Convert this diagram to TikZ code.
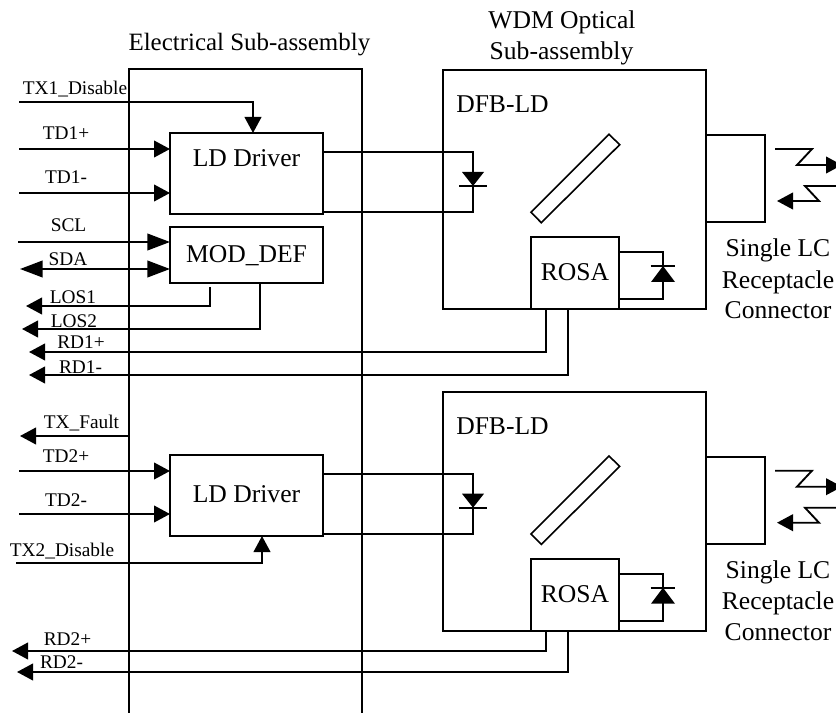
\documentclass[tikz,border=0pt]{standalone}
\usepackage{fontspec}
\setmainfont{Liberation Serif}
\usetikzlibrary{arrows.meta,calc}
\tikzset{
  wire/.style={line width=1.4pt,line join=miter},
  sig/.style={wire,-{Triangle[length=12pt,width=12.5pt]}},
  siglong/.style={wire,-{Triangle[length=17pt,width=12.5pt]}},
  sigb/.style={wire,{Triangle[length=17pt,width=12.5pt]}-{Triangle[length=17pt,width=12.5pt]}},
  boxn/.style={draw,line width=1.5pt,inner sep=0pt,outer sep=0pt,font=\fontsize{19.2}{23}\selectfont,text height=20pt,text depth=9pt},
  drvbox/.style={boxn,minimum width=114.75pt,minimum height=60.75pt},
  lab/.style={anchor=base,inner sep=0pt,font=\fontsize{14.5}{17}\selectfont},
  big/.style={anchor=base,inner sep=0pt,font=\fontsize{19.2}{23}\selectfont},
}
\begin{document}
\begin{tikzpicture}[x=0.75pt,y=-0.75pt]
\useasboundingbox (0,0) rectangle (836,713);
\clip (0,0) rectangle (836,713);
% electrical sub-assembly
\coordinate (ea) at (129,713);
\coordinate (eb) at (129,69);
\coordinate (ec) at (362,69);
\coordinate (ed) at (362,713);
\draw[wire,line width=1.5pt] (ea) -- (eb) -- (ec) -- (ed);
\node[big,font=\fontsize{18.7}{23}\selectfont] (tElec) at (249.4,51) {Electrical Sub-assembly};
\node[big] (tWdmA) at (562,28.5) {WDM Optical};
\node[big] (tWdmB) at (561.5,59.5) {Sub-assembly};
% drivers and MOD_DEF
\node[drvbox,text height=12pt,text depth=23pt] (drv1) at (246.5,173.5) {LD Driver};
\node[drvbox] (drv2) at (246.5,495.5) {LD Driver};
\node[boxn,minimum width=114.75pt,minimum height=42pt] (mod) at (246.5,255) {MOD\_DEF};
% optical assemblies
\foreach \n/\o in {1/0,2/321.7}{
  \begin{scope}[shift={(0,\o)}]
    \node[draw,line width=1.5pt,inner sep=0pt,outer sep=0pt,minimum width=197.25pt,minimum height=179.25pt] (opt\n) at (574.5,189.5) {};
    \node[draw,line width=1.5pt,inner sep=0pt,outer sep=0pt,minimum width=44.25pt,minimum height=65.25pt] (lc\n) at (735.5,178.5) {};
    \node[boxn,minimum width=66pt,minimum height=54pt] (rosa\n) at (575,273) {ROSA};
    \node[big,anchor=base west] (dfb\n) at (456,113) {DFB-LD};
    \node[big] (sa\n) at (778,257) {Single LC};
    \node[big] (sb\n) at (778,288) {Receptacle};
    \node[big] (sc\n) at (778,319) {Connector};
    % mirror
    \draw[line width=1.2pt] (609,134.3) -- (619.7,144.7) -- (541.3,222.7) -- (531,212.3) -- cycle;
    % laser diode and driver outputs
    \coordinate (lda\n) at (473,152);
    \coordinate (ldb\n) at (473,212);
    \draw[wire] (drv\n.east |- lda\n) -- (lda\n) -- (ldb\n) -- (drv\n.east |- ldb\n);
    \fill (462,172) -- (484,172) -- (473,186) -- cycle;
    \draw[wire] (459,186) -- (486.5,186);
    % photodiode
    \coordinate (pda\n) at (663,252);
    \coordinate (pdb\n) at (663,299);
    \draw[wire] (rosa\n.east |- pda\n) -- (pda\n) -- (pdb\n) -- (rosa\n.east |- pdb\n);
    \fill (651,282) -- (675,282) -- (663,266) -- cycle;
    \draw[wire] (650.5,266) -- (675,266);
    % free-space arrows
    \coordinate (fa\n) at (775,149);
    \coordinate (fb\n) at (842,165);
    \coordinate (fc\n) at (836,186);
    \coordinate (fd\n) at (777,201);
    \draw[sig] (fa\n) -- (812,149) -- (797,165) -- (fb\n);
    \draw[sig] (fc\n) -- (805,186) -- (819,201) -- (fd\n);
  \end{scope}
}
% free ends
\coordinate (a1) at (19,102);
\coordinate (a2) at (19,149);
\coordinate (a3) at (19,193);
\coordinate (a4) at (18,242);
\coordinate (a5) at (20,269);
\coordinate (a6) at (26,306);
\coordinate (a7) at (22,329);
\coordinate (a8) at (29,352);
\coordinate (a9) at (29,375);
\coordinate (b0) at (129,436);
\coordinate (b1) at (20,436);
\coordinate (b2) at (19,471);
\coordinate (b3) at (19,514);
\coordinate (b4) at (16,563);
\coordinate (b5) at (12,651);
\coordinate (b6) at (17,672);
% connectors
\draw[sig] (a1) -| (drv1.north -| 253,0);
\draw[sig] (a2) -- (a2 -| drv1.west);
\draw[sig] (a3) -- (a3 -| drv1.west);
\draw[siglong] (a4) -- (a4 -| mod.west);
\draw[sigb] (a5) -- (a5 -| mod.west);
\draw[sig] ($(mod.south)+(-36.5,4)$) |- (a6);
\draw[sig] ($(mod.south)+(13.5,0)$) |- (a7);
\draw[sig] ($(rosa1.south west)+(15,0)$) |- (a8);
\draw[sig] ($(rosa1.south west)+(37,0)$) |- (a9);
\draw[sig] (b0) -- (b1);
\draw[sig] (b2) -- (b2 -| drv2.west);
\draw[sig] (b3) -- (b3 -| drv2.west);
\draw[sig] (b4) -| (drv2.south -| 262,0);
\draw[sig] ($(rosa2.south west)+(15,0)$) |- (b5);
\draw[sig] ($(rosa2.south west)+(37,0)$) |- (b6);
% labels
\node[lab] (l1) at (75,95) {TX1\_Disable};
\node[lab] (l2) at (66,140) {TD1+};
\node[lab] (l3) at (66,184) {TD1-};
\node[lab] (l4) at (68.5,232) {SCL};
\node[lab] (l5) at (68,266) {SDA};
\node[lab] (l6) at (73,304) {LOS1};
\node[lab] (l7) at (74,327) {LOS2};
\node[lab] (l8) at (81,349) {RD1+};
\node[lab] (l9) at (80.5,373) {RD1-};
\node[lab] (m1) at (81.5,428) {TX\_Fault};
\node[lab] (m2) at (66,462) {TD2+};
\node[lab] (m3) at (66,506) {TD2-};
\node[lab] (m4) at (62,556) {TX2\_Disable};
\node[lab] (m5) at (67.5,645) {RD2+};
\node[lab] (m6) at (61.5,668) {RD2-};
\end{tikzpicture}
\end{document}
